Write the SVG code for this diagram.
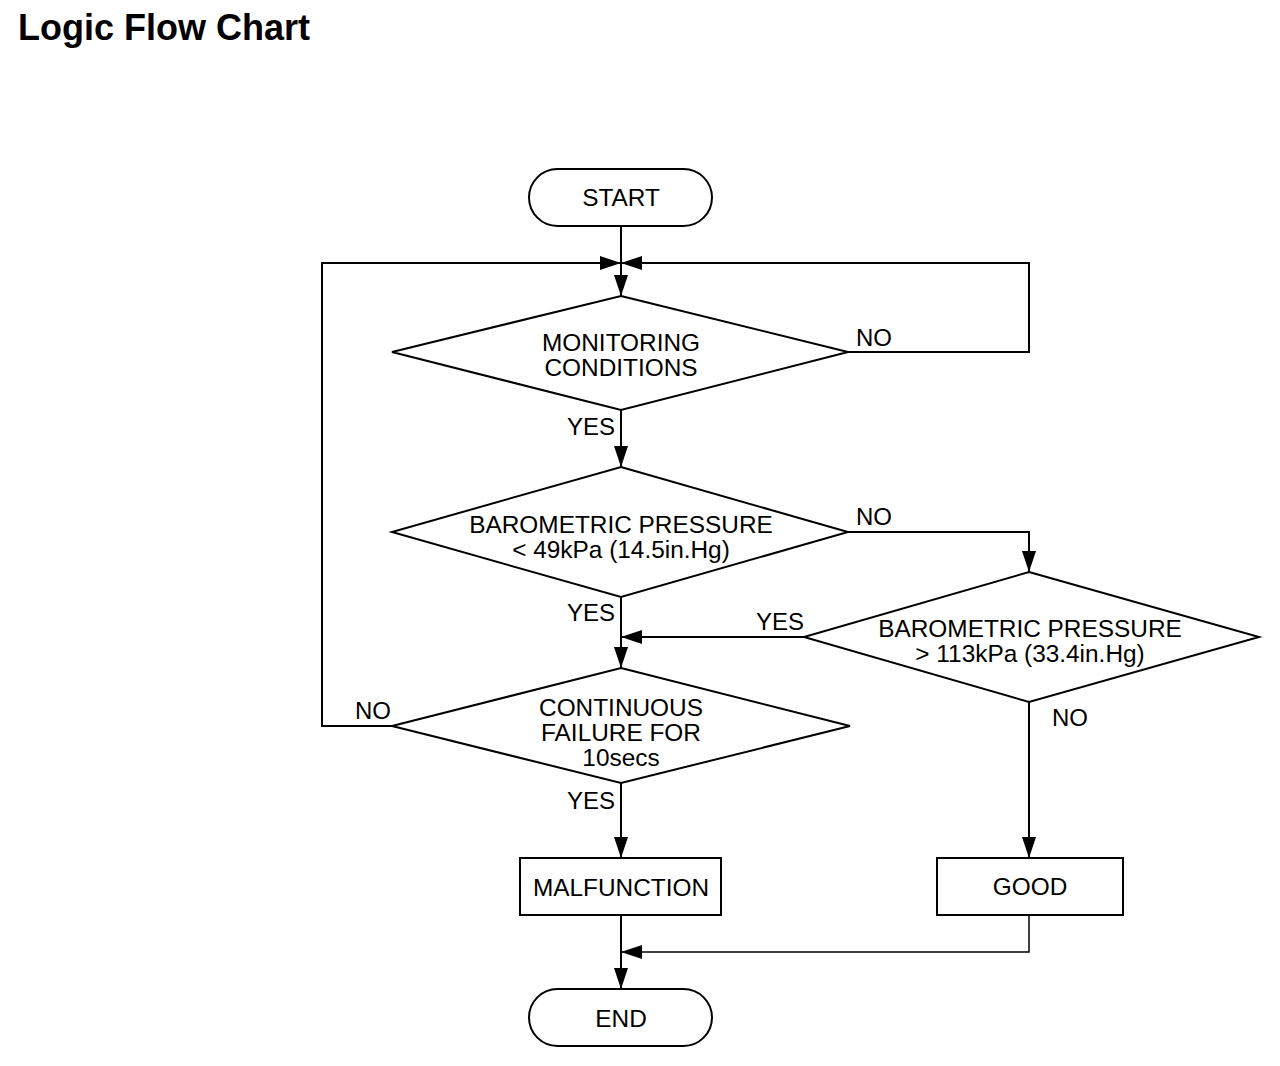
<svg xmlns="http://www.w3.org/2000/svg" width="1280" height="1066" viewBox="0 0 1280 1066">
<defs>
<marker id="ah" markerUnits="userSpaceOnUse" markerWidth="22" markerHeight="14" refX="21" refY="7" orient="auto">
<path d="M0,0 L21,7 L0,14 z" fill="#000"/>
</marker>
<style>
.s{fill:#fff;stroke:#000;stroke-width:2}
.c{fill:none;stroke:#000;stroke-width:2}
.t{font-family:"Liberation Sans",Arial,sans-serif;font-size:24.4px;fill:#000;text-anchor:middle}
.l{font-family:"Liberation Sans",Arial,sans-serif;font-size:24px;fill:#000;text-anchor:middle}
</style>
</defs>
<rect width="1280" height="1066" fill="#fff"/>
<text x="18" y="40" font-family="Liberation Sans,Arial,sans-serif" font-size="36" font-weight="bold">Logic Flow Chart</text>
<g id="connectors">
<path class="c" d="M621,226 V296" marker-end="url(#ah)"/>
<path class="c" d="M322,726 H392 M322,727 V263 H621" marker-end="url(#ah)"/>
<path class="c" d="M848,352 H1029 V263 H621" marker-end="url(#ah)"/>
<path class="c" d="M621,410 V467" marker-end="url(#ah)"/>
<path class="c" d="M848,532 H1029 V572" marker-end="url(#ah)"/>
<path class="c" d="M621,597 V668" marker-end="url(#ah)"/>
<path class="c" d="M804,637 H621" marker-end="url(#ah)"/>
<path class="c" d="M621,783 V858" marker-end="url(#ah)"/>
<path class="c" d="M1029,702 V858" marker-end="url(#ah)"/>
<path class="c" d="M621,915 V989" marker-end="url(#ah)"/>
<path class="c" style="stroke-width:1.5" d="M1029,915 V952 H621" marker-end="url(#ah)"/>
<text class="l" x="591" y="434.5">YES</text>
<text class="l" x="874" y="345.5">NO</text>
<text class="l" x="874" y="524.5">NO</text>
<text class="l" x="591" y="620.5">YES</text>
<text class="l" x="780" y="629.5">YES</text>
<text class="l" x="373" y="718.5">NO</text>
<text class="l" x="1070" y="725.5">NO</text>
<text class="l" x="591" y="808.5">YES</text>
</g>
<g id="start">
<rect class="s" x="529" y="169" width="183" height="57" rx="28.5"/>
<text class="t" x="621" y="205.5">START</text>
</g>
<g id="monitoring">
<polygon class="s" points="621,296 848,352 621,410 392,352"/>
<text class="t" x="621" y="350.5">MONITORING</text>
<text class="t" x="621" y="375.5">CONDITIONS</text>
</g>
<g id="baro-low">
<polygon class="s" points="621,467 848,532 621,597 392,532"/>
<text class="t" x="621" y="532.5">BAROMETRIC PRESSURE</text>
<text class="t" x="621" y="558">&lt; 49kPa (14.5in.Hg)</text>
</g>
<g id="baro-high">
<polygon class="s" points="1029,572 1259,637 1029,702 804,637"/>
<text class="t" x="1030" y="636.5">BAROMETRIC PRESSURE</text>
<text class="t" x="1030" y="662">&gt; 113kPa (33.4in.Hg)</text>
</g>
<g id="continuous">
<polygon class="s" points="621,668 850,726 621,783 392,726"/>
<text class="t" x="621" y="715.5">CONTINUOUS</text>
<text class="t" x="621" y="740.5">FAILURE FOR</text>
<text class="t" x="621" y="765.5">10secs</text>
</g>
<g id="malfunction">
<rect class="s" x="520" y="858" width="201" height="57"/>
<text class="t" x="621" y="895.5">MALFUNCTION</text>
</g>
<g id="good">
<rect class="s" x="937" y="858" width="186" height="57"/>
<text class="t" x="1030" y="894.5">GOOD</text>
</g>
<g id="end">
<rect class="s" x="529" y="989" width="183" height="57" rx="28.5"/>
<text class="t" x="621" y="1026.5">END</text>
</g>
</svg>
